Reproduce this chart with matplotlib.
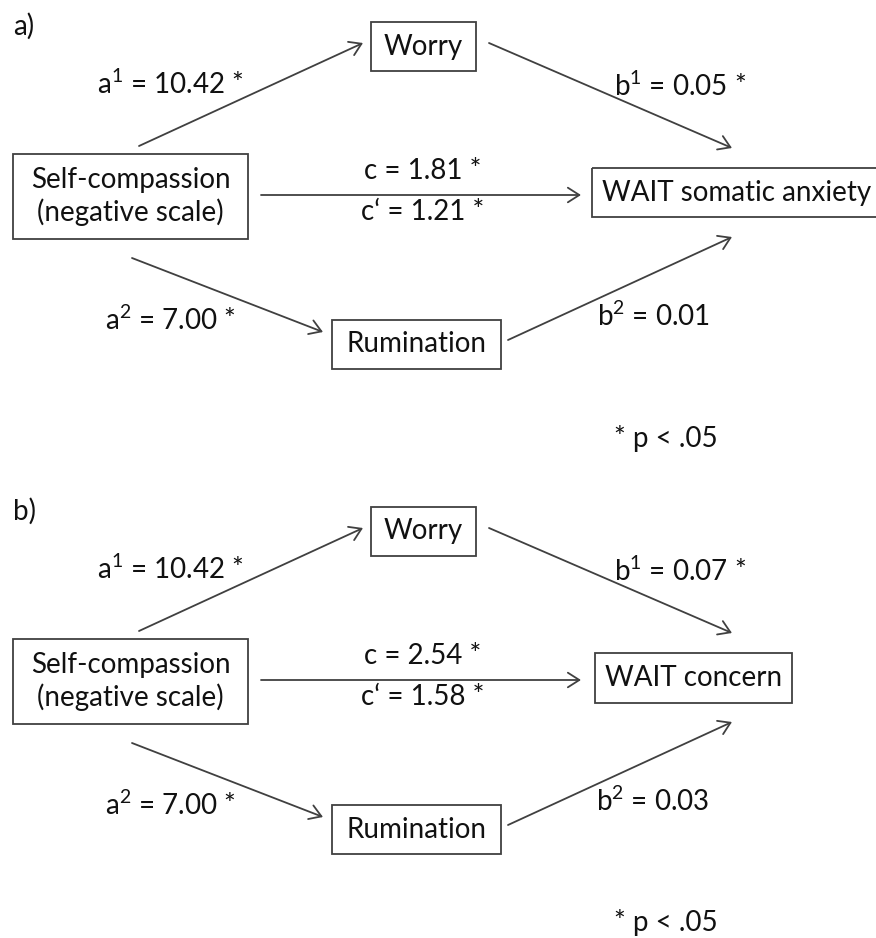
import matplotlib.pyplot as plt
from matplotlib.patches import Rectangle, FancyArrowPatch

plt.rcParams['font.family'] = ['Lato', 'DejaVu Sans']
plt.rcParams['mathtext.fontset'] = 'custom'
plt.rcParams['mathtext.rm'] = 'Lato'
plt.rcParams['mathtext.it'] = 'Lato'
plt.rcParams['mathtext.default'] = 'regular'

# ---------------------------------------------------------------------------
# model values (panel a, panel b)
# ---------------------------------------------------------------------------
panel_tags = ['a)', 'b)']
predictor = 'Self-compassion\n(negative scale)'
mediator_1 = 'Worry'
mediator_2 = 'Rumination'
outcomes = ['WAIT somatic anxiety', 'WAIT concern']

a1_vals = [10.42, 10.42]
a2_vals = [7.00, 7.00]
b1_vals = [0.05, 0.07]
b2_vals = [0.01, 0.03]
c_vals = [1.81, 2.54]
c_prime_vals = [1.21, 1.58]
# significance flags (p < .05)
a1_sig = [True, True]
a2_sig = [True, True]
b1_sig = [True, True]
b2_sig = [False, False]
c_sig = [True, True]
c_prime_sig = [True, True]
note = '* p < .05'

# ---------------------------------------------------------------------------
# layout (pixel coords, y down)
# ---------------------------------------------------------------------------
W, H = 876, 938
PANEL_DY = [0, 485]
EDGE = '#404040'
TXT = '#111111'
FS = 20

fig = plt.figure(figsize=(W / 100, H / 100), dpi=100)
ax = fig.add_axes([0, 0, 1, 1])
ax.set_xlim(0, W)
ax.set_ylim(H, 0)
ax.axis('off')


def box(x, y, w, h, label, tx=None):
    ax.add_patch(Rectangle((x, y), w, h, fill=False, edgecolor=EDGE, lw=1.3))
    if tx is None:
        tx = x + w / 2
    ax.text(tx, y + h / 2, label, ha='center', va='center', fontsize=FS,
            color=TXT, linespacing=1.2)


def arrow(x0, y0, x1, y1):
    ax.add_patch(FancyArrowPatch((x0, y0), (x1, y1),
                                 arrowstyle='->,head_length=0.55,head_width=0.35',
                                 mutation_scale=15, lw=1.3, color=EDGE,
                                 shrinkA=0, shrinkB=0))


def coef(name, v, sig, sup=None):
    s = name
    if sup is not None:
        s += '$^{%s}$' % sup
    s += ' = ' + '{:.2f}'.format(v)
    return s + ' *' if sig else s


def label(x, y, s):
    ax.text(x, y, s, ha='center', va='center', fontsize=FS, color=TXT)


for i, dy in enumerate(PANEL_DY):
    ax.text(13, 26 + dy, panel_tags[i], ha='left', va='center',
            fontsize=FS, color=TXT)

    # boxes
    box(371, 22 + dy, 105, 49, mediator_1)
    box(13, 154 + dy, 235, 85, predictor)
    box(332, 320 + dy, 169, 49, mediator_2)
    if i == 0:
        box(592, 168 + dy, 300, 49, outcomes[i], tx=737)
    else:
        box(595, 168 + dy, 197, 50, outcomes[i])

    # paths
    arrow(139, 146 + dy, 363, 43 + dy)
    arrow(489, 43 + dy, 732, 148 + dy)
    arrow(261, 195 + dy, 581, 195 + dy)
    arrow(132, 258 + dy, 323, 332 + dy)
    arrow(508, 340 + dy, 732, 237 + dy)

    # coefficients
    label(170, 84 + dy, coef('a', a1_vals[i], a1_sig[i], '1'))
    label(680, 86 + dy, coef('b', b1_vals[i], b1_sig[i], '1'))
    label(423, 171 + dy, coef('c', c_vals[i], c_sig[i]))
    label(423, 212 + dy, coef('c\u2018', c_prime_vals[i], c_prime_sig[i]))
    label(170, 320 + dy, coef('a', a2_vals[i], a2_sig[i], '2'))
    label(653, 316 + dy, coef('b', b2_vals[i], b2_sig[i], '2'))
    label(666, 438 + dy, note)

fig.savefig('out.png', dpi=100, facecolor='white')
